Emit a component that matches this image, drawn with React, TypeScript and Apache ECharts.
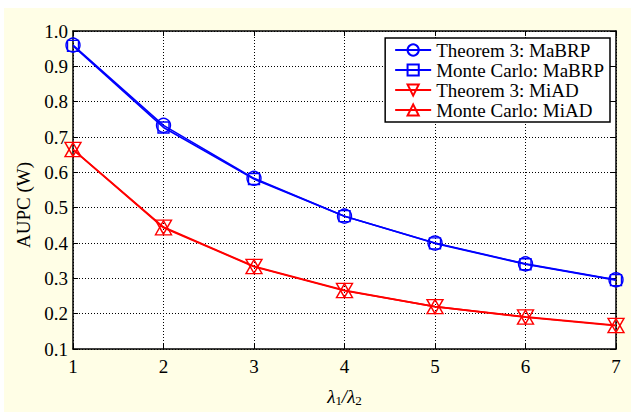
import React, { useEffect, useRef } from "react";
import * as echarts from "echarts";

const xValues = [1, 2, 3, 4, 5, 6, 7];
const thMaBRP = [0.960, 0.733, 0.583, 0.476, 0.400, 0.341, 0.296];
const mcMaBRP = [0.958, 0.727, 0.581, 0.476, 0.399, 0.340, 0.295];
const thMiAD = [0.665, 0.445, 0.334, 0.266, 0.220, 0.191, 0.167];
const mcMiAD = [0.664, 0.443, 0.333, 0.265, 0.220, 0.190, 0.166];
const seriesNames = [
  "Theorem 3: MaBRP",
  "Monte Carlo: MaBRP",
  "Theorem 3: MiAD",
  "Monte Carlo: MiAD",
];

const FONT = "'Liberation Serif', 'Times New Roman', serif";
const BLUE = "#0000ff";
const RED = "#ff0000";

function pairs(ys: number[]) {
  return xValues.map((x, i) => [x, ys[i]]);
}

export default function App() {
  const ref = useRef<HTMLDivElement>(null);
  useEffect(() => {
    document.body.style.margin = "0";
    const chart = echarts.init(ref.current!, undefined, { renderer: "svg" });
    const mkSeries = (
      name: string,
      ys: number[],
      color: string,
      symbol: string,
      size: number | number[],
      rotate: number,
      z: number
    ) => ({
      type: "line",
      name,
      data: pairs(ys),
      symbol,
      symbolSize: size,
      symbolRotate: rotate,
      showAllSymbol: true,
      z,
      lineStyle: { color, width: 1.6 },
      itemStyle: { color: "rgba(0,0,0,0)", borderColor: color, borderWidth: 1.4 },
      emphasis: { disabled: true },
    });
    const tickAxisCommon = {
      axisLine: { show: true, lineStyle: { color: "#000", width: 1.5 } },
      axisTick: { show: true, inside: true, length: 5, lineStyle: { color: "#000", width: 1 } },
      axisLabel: { show: false },
      splitLine: { show: false },
    };
    chart.setOption({
      animation: false,
      backgroundColor: "#fffee6",
      textStyle: { fontFamily: FONT },
      grid: {
        left: 69,
        right: 15,
        top: 23,
        bottom: 59,
        show: true,
        backgroundColor: "#ffffff",
        borderWidth: 0,
      },
      legend: {
        orient: "vertical",
        right: 21,
        top: 30,
        data: seriesNames,
        backgroundColor: "#ffffff",
        borderColor: "#000",
        borderWidth: 1.5,
        borderRadius: 0,
        padding: [2, 6, 2, 9],
        itemGap: 0,
        itemWidth: 36,
        itemHeight: 14,
        textStyle: { fontFamily: FONT, fontSize: 19, color: "#000", lineHeight: 20 },
      },
      xAxis: [
        {
          type: "value",
          min: 1,
          max: 7,
          interval: 1,
          name: "{i|λ}{s|1}{i|/λ}{s|2}",
          nameLocation: "middle",
          nameGap: 36,
          nameTextStyle: {
            rich: {
              i: { fontFamily: FONT, fontSize: 19, fontStyle: "italic", color: "#000", lineHeight: 22, verticalAlign: "middle" },
              s: { fontFamily: FONT, fontSize: 13, color: "#000", lineHeight: 22, verticalAlign: "bottom" },
            },
          },
          axisLine: { show: true, onZero: false, lineStyle: { color: "#000", width: 1.5 } },
          axisTick: { show: true, inside: true, length: 5, lineStyle: { color: "#000" } },
          axisLabel: { fontFamily: FONT, fontSize: 19, color: "#000", margin: 8 },
          splitLine: { show: true, lineStyle: { color: "#000", type: [1, 2], width: 1 } },
        },
        {
          type: "value",
          position: "top",
          min: 1,
          max: 7,
          interval: 1,
          ...tickAxisCommon,
        },
      ],
      yAxis: [
        {
          type: "value",
          min: 0.1,
          max: 1.0,
          interval: 0.1,
          name: "AUPC (W)",
          nameLocation: "middle",
          nameGap: 40,
          nameTextStyle: { fontFamily: FONT, fontSize: 19, color: "#000", padding: [0, 30, 0, 0] },
          axisLine: { show: true, onZero: false, lineStyle: { color: "#000", width: 1.5 } },
          axisTick: { show: true, inside: true, length: 5, lineStyle: { color: "#000" } },
          axisLabel: {
            fontFamily: FONT,
            fontSize: 19,
            color: "#000",
            margin: 5,
            formatter: (v: number) => v.toFixed(1),
          },
          splitLine: { show: true, lineStyle: { color: "#000", type: [1, 2], width: 1 } },
        },
        {
          type: "value",
          position: "right",
          min: 0.1,
          max: 1.0,
          interval: 0.1,
          ...tickAxisCommon,
        },
      ],
      series: [
        mkSeries(seriesNames[1], mcMaBRP, BLUE, "rect", 11, 0, 2),
        mkSeries(seriesNames[0], thMaBRP, BLUE, "circle", 14, 0, 3),
        mkSeries(seriesNames[3], mcMiAD, RED, "triangle", [16, 14], 0, 2),
        mkSeries(seriesNames[2], thMiAD, RED, "triangle", [16, 14], 180, 3),
      ],
    });
    return () => chart.dispose();
  }, []);
  return (
    <div style={{ position: "absolute", left: 0, top: 0, width: 631, height: 412, background: "#ffffff" }}>
      <div ref={ref} style={{ position: "absolute", left: 4, top: 8, width: 627, height: 404 }} />
    </div>
  );
}
